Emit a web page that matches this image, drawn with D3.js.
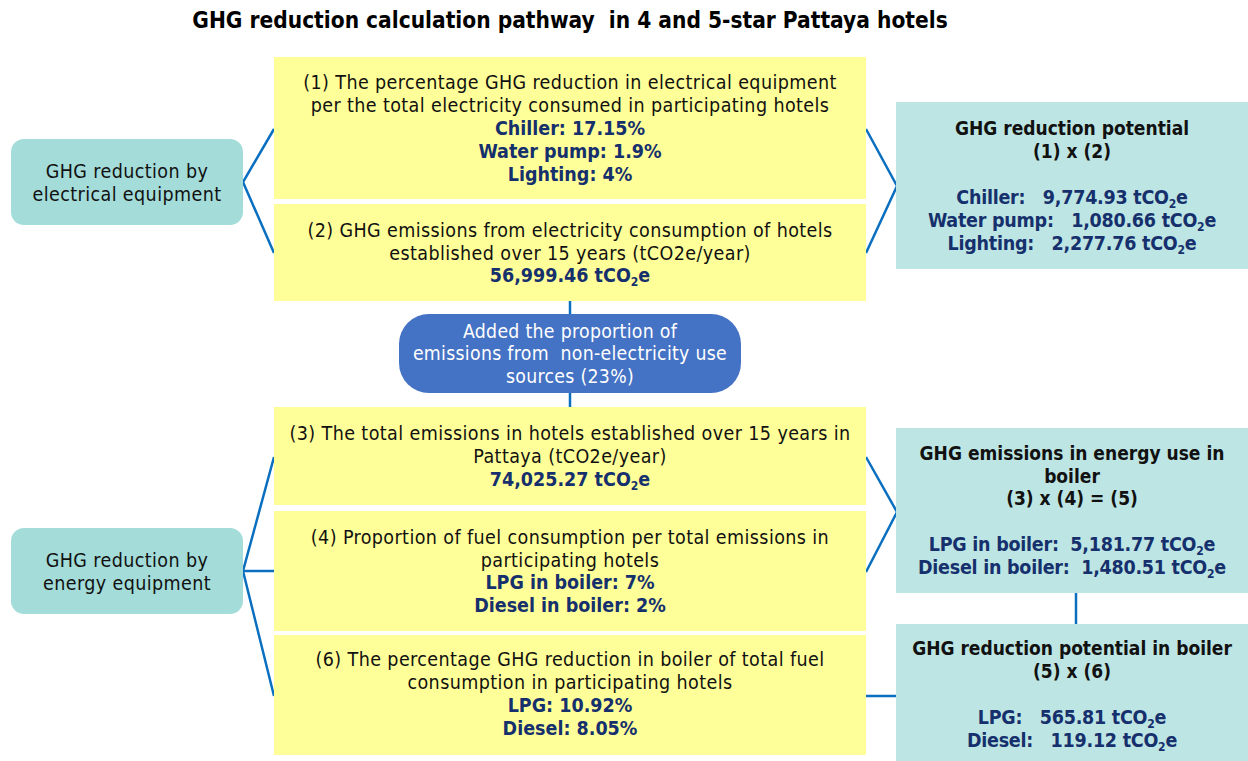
<!DOCTYPE html>
<html>
<head>
<meta charset="utf-8">
<script src="https://cdn.jsdelivr.net/npm/d3@7.9.0/dist/d3.min.js"></script>
<style>
  body { margin: 0; background: #fff; }
  svg text { font-family: "DejaVu Sans Condensed", "Noto Sans", sans-serif; white-space: pre; }
</style>
</head>
<body>
<svg id="chart" width="1248" height="761"></svg>
<script>
// values
const elecItems = ['Chiller', 'Water pump', 'Lighting'];
const elecShare = [17.15, 1.9, 4];            // % reduction per total electricity
const elecEmissions = 56999.46;               // tCO2e/year, hotels > 15 years
const nonElecShare = 23;                      // % added for non-electricity sources
const totalEmissions = 74025.27;              // tCO2e/year
const elecPotential = [9774.93, 1080.66, 2277.76];

const fuelItems = ['LPG', 'Diesel'];
const fuelShare = [7, 2];                     // % of total emissions
const boilerCut = [10.92, 8.05];              // % reduction in boiler
const boilerEmissions = [5181.77, 1480.51];
const boilerPotential = [565.81, 119.12];

const fmt = d3.format(',.2f');
const pct = v => `${v}%`;
const tco = v => `${fmt(v)} tCO_2e`;

const svg = d3.select('#chart');

const C = {
  line: '#0b6fc0',
  yellow: '#ffff99',
  left: '#a3dcd9',
  right: '#bde5e3',
  pill: '#4472c4',
  blue: '#15306c'
};

// title
svg.append('text')
  .attr('x', 570).attr('y', 28)
  .attr('text-anchor', 'middle')
  .attr('font-size', 22.5).attr('font-weight', 'bold')
  .text('GHG reduction calculation pathway  in 4 and 5-star Pattaya hotels');

// box layout
const yellowX = 274, yellowW = 592;
const boxes = {
  y1: { x: yellowX, y: 57, w: yellowW, h: 142, fill: C.yellow },
  y2: { x: yellowX, y: 204, w: yellowW, h: 97, fill: C.yellow },
  y3: { x: yellowX, y: 407, w: yellowW, h: 98, fill: C.yellow },
  y4: { x: yellowX, y: 511, w: yellowW, h: 120, fill: C.yellow },
  y6: { x: yellowX, y: 635, w: yellowW, h: 120, fill: C.yellow },
  l1: { x: 11, y: 139, w: 232, h: 86, fill: C.left, r: 13 },
  l2: { x: 11, y: 528, w: 232, h: 86, fill: C.left, r: 13 },
  pill: { x: 399, y: 314, w: 342, h: 79, fill: C.pill, r: 30 },
  r1: { x: 896, y: 102, w: 352, h: 167, fill: C.right },
  r2: { x: 896, y: 428, w: 352, h: 165, fill: C.right },
  r3: { x: 896, y: 624, w: 352, h: 140, fill: C.right }
};

// connectors (drawn first, boxes sit on top)
const lineGen = d3.line();
const b = boxes;
const midY = k => b[k].y + b[k].h / 2;
const right = k => b[k].x + b[k].w;
const connectors = [
  [[yellowX, 129], [right('l1'), midY('l1')], [yellowX, 253]],
  [[right('y1'), 129], [b.r1.x + 1, 186], [right('y2'), 253]],
  [[570, b.y2.y + b.y2.h], [570, b.pill.y]],
  [[570, b.pill.y + b.pill.h], [570, b.y3.y]],
  [[yellowX, 457], [right('l2'), midY('l2')], [yellowX, 696]],
  [[right('l2'), midY('l2')], [yellowX, midY('l2')]],
  [[right('y3'), 457], [b.r2.x + 1, 512], [right('y4'), 572]],
  [[1076, b.r2.y + b.r2.h], [1076, b.r3.y]],
  [[right('y6'), 696], [b.r3.x, 696]]
];
svg.selectAll('path.conn').data(connectors).join('path')
  .attr('class', 'conn')
  .attr('d', d => lineGen(d))
  .attr('fill', 'none')
  .attr('stroke', C.line)
  .attr('stroke-width', 2.5);

svg.selectAll('rect.box').data(Object.values(boxes)).join('rect')
  .attr('class', 'box')
  .attr('x', d => d.x).attr('y', d => d.y)
  .attr('width', d => d.w).attr('height', d => d.h)
  .attr('rx', d => d.r || 0)
  .attr('fill', d => d.fill);

// text helper: lines = [[text, style]], style n=normal, b=bold blue, h=bold black, w=white
const sizes = { n: 19.5, w: 19.3, b: 19.5, h: 19 };
const spacing = { n: 0.4, w: 0.3, b: 0, h: 0 };
function block(key, lines, step, offset = 0, bSpacing = 0) {
  const bx = boxes[key];
  const cx = bx.x + bx.w / 2;
  const y0 = bx.y + bx.h / 2 - (lines.length - 1) * step / 2 + offset;
  lines.forEach(([txt, st], i) => {
    if (!txt) return;
    const fs = sizes[st];
    const t = svg.append('text')
      .attr('x', cx).attr('y', y0 + i * step)
      .attr('dy', '0.36em')
      .attr('text-anchor', 'middle')
      .attr('font-size', fs)
      .attr('letter-spacing', st === 'b' ? bSpacing : spacing[st])
      .attr('font-weight', st === 'b' || st === 'h' ? 'bold' : 'normal')
      .attr('fill', st === 'b' ? C.blue : st === 'w' ? '#fff' : '#111');
    const parts = txt.split('_2');
    parts.forEach((p, j) => {
      if (j > 0) {
        t.append('tspan').attr('font-size', fs * 0.62).attr('dy', 4).text('2');
        t.append('tspan').attr('dy', -4).text(p);
      } else {
        t.append('tspan').text(p);
      }
    });
  });
}

block('y1', [
  ['(1) The percentage GHG reduction in electrical equipment', 'n'],
  ['per the total electricity consumed in participating hotels', 'n'],
  ...elecItems.map((k, i) => [`${k}: ${pct(elecShare[i])}`, 'b'])
], 22.8);

block('y2', [
  ['(2) GHG emissions from electricity consumption of hotels', 'n'],
  ['established over 15 years (tCO2e/year)', 'n'],
  [tco(elecEmissions), 'b']
], 22.5);

block('pill', [
  ['Added the proportion of', 'w'],
  ['emissions from  non-electricity use', 'w'],
  [`sources (${nonElecShare}%)`, 'w']
], 22.5);

block('y3', [
  ['(3) The total emissions in hotels established over 15 years in', 'n'],
  ['Pattaya (tCO2e/year)', 'n'],
  [tco(totalEmissions), 'b']
], 23);

block('y4', [
  ['(4) Proportion of fuel consumption per total emissions in', 'n'],
  ['participating hotels', 'n'],
  ...fuelItems.map((k, i) => [`${k} in boiler: ${pct(fuelShare[i])}`, 'b'])
], 22.7);

block('y6', [
  ['(6) The percentage GHG reduction in boiler of total fuel', 'n'],
  ['consumption in participating hotels', 'n'],
  ...fuelItems.map((k, i) => [`${k}: ${pct(boilerCut[i])}`, 'b'])
], 23, -2);

block('l1', [['GHG reduction by', 'n'], ['electrical equipment', 'n']], 23);
block('l2', [['GHG reduction by', 'n'], ['energy equipment', 'n']], 23);

block('r1', [
  ['GHG reduction potential', 'h'],
  ['(1) x (2)', 'h'],
  ['', ''],
  ...elecItems.map((k, i) => [`${k}:   ${tco(elecPotential[i])}`, 'b'])
], 23, 0, -0.25);

block('r2', [
  ['GHG emissions in energy use in', 'h'],
  ['boiler', 'h'],
  ['(3) x (4) = (5)', 'h'],
  ['', ''],
  ...fuelItems.map((k, i) => [`${k} in boiler:  ${tco(boilerEmissions[i])}`, 'b'])
], 22.8, -0.5, -0.25);

block('r3', [
  ['GHG reduction potential in boiler', 'h'],
  ['(5) x (6)', 'h'],
  ['', ''],
  ...fuelItems.map((k, i) => [`${k}:   ${tco(boilerPotential[i])}`, 'b'])
], 23, 0, -0.25);
</script>
</body>
</html>
